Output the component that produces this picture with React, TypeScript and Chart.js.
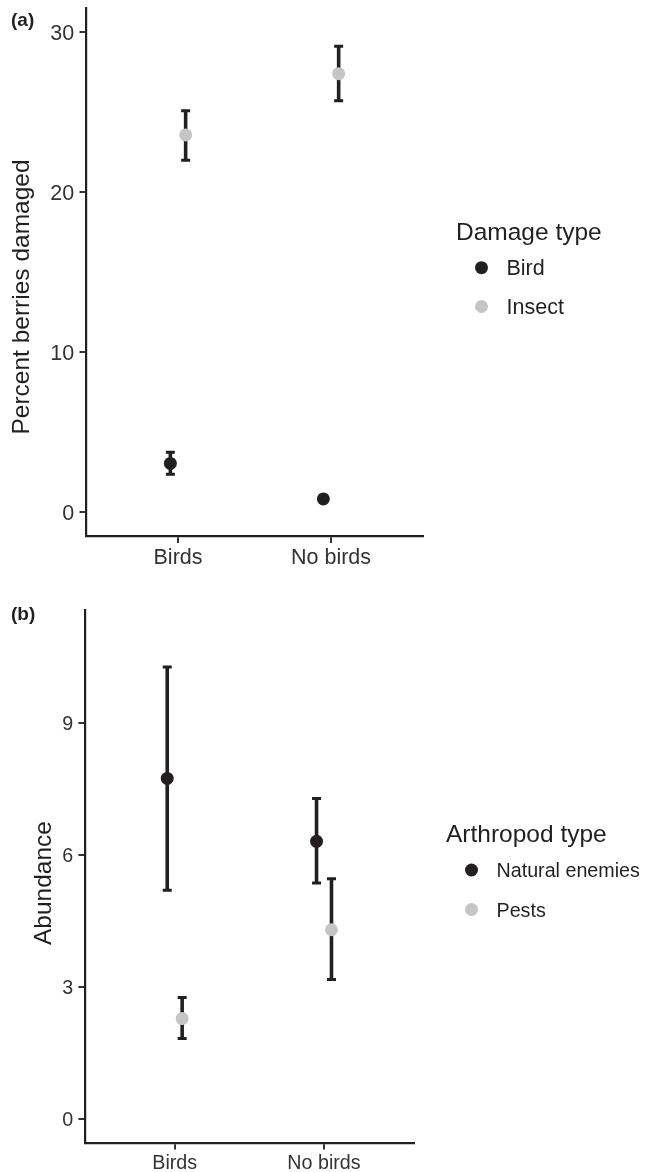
import React, { useEffect, useRef } from 'react';
import { Chart, registerables } from 'chart.js';

Chart.register(...registerables);

// ---------- data ----------
const CATEGORIES = ['Birds', 'No birds'];

const DAMAGE_TYPES = ['Bird', 'Insect'];
const BIRD_DAMAGE_MEAN = [3.05, 0.83];
const BIRD_DAMAGE_LOW = [2.37, 0.7];
const BIRD_DAMAGE_HIGH = [3.74, 0.96];
const INSECT_DAMAGE_MEAN = [23.58, 27.41];
const INSECT_DAMAGE_LOW = [22.0, 25.72];
const INSECT_DAMAGE_HIGH = [25.09, 29.12];
const DAMAGE_TICKS = [0, 10, 20, 30];

const ARTHROPOD_TYPES = ['Natural enemies', 'Pests'];
const ENEMIES_MEAN = [7.73, 6.3];
const ENEMIES_LOW = [5.19, 5.35];
const ENEMIES_HIGH = [10.26, 7.27];
const PESTS_MEAN = [2.27, 4.29];
const PESTS_LOW = [1.82, 3.16];
const PESTS_HIGH = [2.75, 5.45];
const ABUNDANCE_TICKS = [0, 3, 6, 9];

// ---------- styling ----------
const FAMILY = '"Liberation Sans", Arial, Helvetica, sans-serif';
const DARK = '#231f20';
const TICK_TEXT = '#333333';
const GROUP_COLORS = ['#231f20', '#c4c5c7'];
const DODGE = [-0.05, 0.05];
const W = 645;

type Panel = {
  tag: string;
  yTitle: string;
  legendTitle: string;
  groups: string[];
  means: number[][];
  lows: number[][];
  highs: number[][];
  yTicks: number[];
  yMin: number;
  yMax: number;
  top: number;
  height: number;
  area: { left: number; right: number; top: number; bottom: number };
  tickFont: number;
  titleFont: number;
  legendFont: number;
  tagY: number;
  yTitleX: number;
  yTitleY: number;
  xLabelOffset: number;
  legendX: number;
  legendTitleY: number;
  legendItemY: number[];
  pointRadius: number;
};

const PANEL_A: Panel = {
  tag: '(a)',
  yTitle: 'Percent berries damaged',
  legendTitle: 'Damage type',
  groups: DAMAGE_TYPES,
  means: [BIRD_DAMAGE_MEAN, INSECT_DAMAGE_MEAN],
  lows: [BIRD_DAMAGE_LOW, INSECT_DAMAGE_LOW],
  highs: [BIRD_DAMAGE_HIGH, INSECT_DAMAGE_HIGH],
  yTicks: DAMAGE_TICKS,
  yMin: -1.5,
  yMax: 31.5,
  top: 0,
  height: 580,
  area: { left: 86.2, right: 422.8, top: 8.2, bottom: 536.2 },
  tickFont: 21.5,
  titleFont: 24.5,
  legendFont: 21.5,
  tagY: 26,
  yTitleX: 29,
  yTitleY: 297,
  xLabelOffset: 27.5,
  legendX: 456,
  legendTitleY: 240,
  legendItemY: [267.7, 306.5],
  pointRadius: 6.5,
};

const PANEL_B: Panel = {
  tag: '(b)',
  yTitle: 'Abundance',
  legendTitle: 'Arthropod type',
  groups: ARTHROPOD_TYPES,
  means: [ENEMIES_MEAN, PESTS_MEAN],
  lows: [ENEMIES_LOW, PESTS_LOW],
  highs: [ENEMIES_HIGH, PESTS_HIGH],
  yTicks: ABUNDANCE_TICKS,
  yMin: -0.55,
  yMax: 11.55,
  top: 580,
  height: 592,
  area: { left: 85.1, right: 413.6, top: 30.3, bottom: 562.7 },
  tickFont: 19.7,
  titleFont: 24.5,
  legendFont: 19.7,
  tagY: 40,
  yTitleX: 51,
  yTitleY: 303,
  xLabelOffset: 26.5,
  legendX: 446,
  legendTitleY: 261.7,
  legendItemY: [290, 329.5],
  pointRadius: 6.5,
};

function drawText(
  ctx: CanvasRenderingContext2D,
  s: string,
  x: number,
  y: number,
  size: number,
  color: string,
  align: CanvasTextAlign = 'left',
  bold = false
) {
  ctx.font = `${bold ? 'bold ' : ''}${size}px ${FAMILY}`;
  ctx.fillStyle = color;
  ctx.textAlign = align;
  ctx.textBaseline = 'alphabetic';
  ctx.fillText(s, x, y);
}

function makePlugin(p: Panel) {
  return {
    id: 'panelDecor',
    beforeDatasetsDraw(chart: any) {
      const ctx: CanvasRenderingContext2D = chart.ctx;
      const xs = chart.scales.x;
      const ys = chart.scales.y;
      ctx.save();
      ctx.strokeStyle = DARK;
      ctx.lineCap = 'butt';
      p.means.forEach((series, g) => {
        series.forEach((_, i) => {
          const x = xs.getPixelForValue(i + 1 + DODGE[g]);
          const yl = ys.getPixelForValue(p.lows[g][i]);
          const yh = ys.getPixelForValue(p.highs[g][i]);
          ctx.lineWidth = 3.6;
          ctx.beginPath();
          ctx.moveTo(x, yl);
          ctx.lineTo(x, yh);
          ctx.stroke();
          ctx.lineWidth = 3;
          ctx.beginPath();
          ctx.moveTo(x - 4.5, yl);
          ctx.lineTo(x + 4.5, yl);
          ctx.moveTo(x - 4.5, yh);
          ctx.lineTo(x + 4.5, yh);
          ctx.stroke();
        });
      });
      ctx.restore();
    },
    afterDraw(chart: any) {
      const ctx: CanvasRenderingContext2D = chart.ctx;
      const xs = chart.scales.x;
      const ys = chart.scales.y;
      const a = chart.chartArea;
      ctx.save();
      // x tick labels
      CATEGORIES.forEach((c, i) => {
        drawText(ctx, c, xs.getPixelForValue(i + 1), a.bottom + p.xLabelOffset, p.tickFont, TICK_TEXT, 'center');
      });
      // y tick labels
      p.yTicks.forEach((v) => {
        drawText(ctx, String(v), a.left - 12, ys.getPixelForValue(v) + 0.358 * p.tickFont, p.tickFont, TICK_TEXT, 'right');
      });
      // y title
      ctx.save();
      ctx.translate(p.yTitleX, p.yTitleY);
      ctx.rotate(-Math.PI / 2);
      drawText(ctx, p.yTitle, 0, 0, p.titleFont, DARK, 'center');
      ctx.restore();
      // tag
      drawText(ctx, p.tag, 11, p.tagY, 19, DARK, 'left', true);
      // legend
      drawText(ctx, p.legendTitle, p.legendX, p.legendTitleY, p.titleFont, DARK, 'left');
      p.groups.forEach((gname, g) => {
        const cy = p.legendItemY[g];
        ctx.beginPath();
        ctx.fillStyle = GROUP_COLORS[g];
        ctx.arc(p.legendX + 25.5, cy, p.pointRadius, 0, Math.PI * 2);
        ctx.fill();
        drawText(ctx, gname, p.legendX + 50.5, cy + 0.358 * p.legendFont, p.legendFont, DARK, 'left');
      });
      ctx.restore();
    },
  };
}

function PanelChart({ p }: { p: Panel }) {
  const ref = useRef<HTMLCanvasElement | null>(null);
  useEffect(() => {
    if (!ref.current) return;
    const datasets = p.groups.map((g, gi) => ({
      label: g,
      data: CATEGORIES.map((_, i) => ({ x: i + 1 + DODGE[gi], y: p.means[gi][i] })),
      pointRadius: p.pointRadius,
      pointHoverRadius: p.pointRadius,
      pointBackgroundColor: GROUP_COLORS[gi],
      pointBorderWidth: 0,
      borderWidth: 0,
      showLine: false,
    }));
    const chart = new Chart(ref.current, {
      type: 'scatter',
      data: { datasets },
      plugins: [makePlugin(p)],
      options: {
        animation: false,
        responsive: false,
        devicePixelRatio: 1,
        events: [],
        layout: {
          padding: { left: 0, top: p.area.top, right: W - p.area.right, bottom: 0 },
        },
        plugins: {
          legend: { display: false },
          tooltip: { enabled: false },
          title: { display: false },
        },
        scales: {
          x: {
            type: 'linear',
            min: 0.4,
            max: 2.6,
            bounds: 'data',
            afterBuildTicks: (s: any) => {
              s.ticks = CATEGORIES.map((_, i) => ({ value: i + 1 }));
            },
            afterFit: (s: any) => {
              s.height = p.height - p.area.bottom;
            },
            ticks: { display: false },
            grid: {
              display: true,
              drawOnChartArea: false,
              drawTicks: true,
              tickLength: 6.7,
              color: '#333333',
              lineWidth: 2,
            },
            border: { display: true, color: DARK, width: 2.2 },
          },
          y: {
            type: 'linear',
            min: p.yMin,
            max: p.yMax,
            bounds: 'data',
            afterBuildTicks: (s: any) => {
              s.ticks = p.yTicks.map((v) => ({ value: v }));
            },
            afterFit: (s: any) => {
              s.width = p.area.left;
            },
            ticks: { display: false },
            grid: {
              display: true,
              drawOnChartArea: false,
              drawTicks: true,
              tickLength: 6.7,
              color: '#333333',
              lineWidth: 2,
            },
            border: { display: true, color: DARK, width: 2.2 },
          },
        },
      } as any,
    });
    return () => chart.destroy();
  }, [p]);
  return (
    <canvas
      ref={ref}
      width={W}
      height={p.height}
      style={{ position: 'absolute', left: 0, top: p.top, width: W, height: p.height }}
    />
  );
}

export default function App() {
  return (
    <div
      style={{
        position: 'absolute',
        left: 0,
        top: 0,
        width: W,
        height: 1172,
        background: '#ffffff',
        overflow: 'hidden',
      }}
    >
      <PanelChart p={PANEL_A} />
      <PanelChart p={PANEL_B} />
    </div>
  );
}
